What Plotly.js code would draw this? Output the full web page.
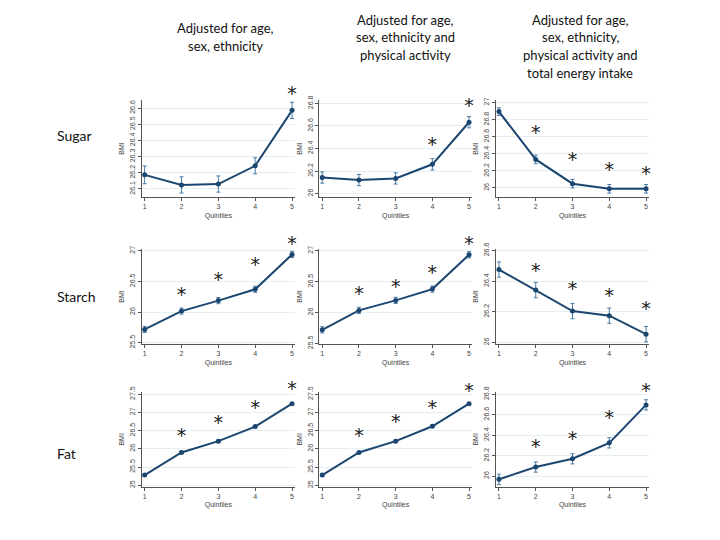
<!DOCTYPE html>
<html>
<head>
<meta charset="utf-8">
<script src="https://cdn.plot.ly/plotly-3.0.1.min.js"></script>
<style>html,body{margin:0;padding:0;background:#fff;overflow:hidden}#chart{width:720px;height:540px}</style>
</head>
<body>
<div id="chart"></div>
<script>
// ---- data ----
const quintiles = [1, 2, 3, 4, 5];
const rowLabels = ["Sugar", "Starch", "Fat"];
const colTitleLines = [
  ["Adjusted for age,", "sex, ethnicity"],
  ["Adjusted for age,", "sex, ethnicity and", "physical activity"],
  ["Adjusted for age,", "sex, ethnicity,", "physical activity and", "total energy intake"]
];

const sugarAdj1 = [26.187, 26.125, 26.13, 26.243, 26.586];
const sugarAdj1Err = [0.055, 0.05, 0.05, 0.05, 0.05];
const sugarAdj1Star = [null, null, null, null, 26.711];
const sugarAdj1Ticks = [26.1, 26.2, 26.3, 26.4, 26.5, 26.6];

const sugarAdj2 = [26.143, 26.12, 26.135, 26.26, 26.633];
const sugarAdj2Err = [0.05, 0.05, 0.05, 0.05, 0.05];
const sugarAdj2Star = [null, null, null, 26.469, 26.812];
const sugarAdj2Ticks = [26, 26.2, 26.4, 26.6, 26.8];

const sugarAdj3 = [26.894, 26.334, 26.05, 25.99, 25.99];
const sugarAdj3Err = [0.045, 0.05, 0.05, 0.05, 0.05];
const sugarAdj3Star = [null, 26.699, 26.373, 26.259, 26.216];
const sugarAdj3Ticks = [26, 26.2, 26.4, 26.6, 26.8, 27];

const starchAdj1 = [25.718, 26.017, 26.188, 26.373, 26.941];
const starchAdj1Err = [0.05, 0.05, 0.05, 0.05, 0.05];
const starchAdj1Star = [null, 26.345, 26.586, 26.831, 27.175];
const starchAdj1Ticks = [25.5, 26, 26.5, 27];

const starchAdj2 = [25.72, 26.035, 26.197, 26.38, 26.936];
const starchAdj2Err = [0.05, 0.05, 0.05, 0.05, 0.05];
const starchAdj2Star = [null, 26.364, 26.482, 26.716, 27.174];
const starchAdj2Ticks = [25.5, 26, 26.5, 27];

const starchAdj3 = [26.476, 26.342, 26.205, 26.175, 26.054];
const starchAdj3Err = [0.05, 0.05, 0.05, 0.05, 0.05];
const starchAdj3Star = [null, 26.492, 26.379, 26.334, 26.243];
const starchAdj3Ticks = [26, 26.2, 26.4, 26.6];

const fatAdj1 = [25.28, 25.9, 26.21, 26.61, 27.24];
const fatAdj1Err = [0.03, 0.03, 0.03, 0.03, 0.03];
const fatAdj1Star = [null, 26.468, 26.836, 27.247, 27.748];
const fatAdj1Ticks = [25, 25.5, 26, 26.5, 27, 27.5];

const fatAdj2 = [25.28, 25.9, 26.21, 26.62, 27.24];
const fatAdj2Err = [0.03, 0.03, 0.03, 0.03, 0.03];
const fatAdj2Star = [null, 26.468, 26.852, 27.247, 27.70];
const fatAdj2Ticks = [25, 25.5, 26, 26.5, 27, 27.5];

const fatAdj3 = [25.968, 26.088, 26.169, 26.325, 26.696];
const fatAdj3Err = [0.05, 0.05, 0.05, 0.05, 0.05];
const fatAdj3Star = [null, 26.329, 26.4, 26.612, 26.871];
const fatAdj3Ticks = [26, 26.2, 26.4, 26.6, 26.8];

// ---- layout helpers ----
const W = 720, H = 540;
const colPx = [[141.7, 295], [319.3, 472], [496, 649]];
const rowPx = [[100, 197], [249, 344], [392, 486.7]];
const yRanges = [
  [[26.05, 26.65], [25.97, 26.83], [25.894, 27.03]],
  [[25.48, 27.03], [25.49, 27.03], [25.99, 26.61]],
  [[24.96, 27.56], [24.96, 27.56], [25.896, 26.822]]
];

const panels = [
  [[sugarAdj1, sugarAdj1Err, sugarAdj1Star, sugarAdj1Ticks],
   [sugarAdj2, sugarAdj2Err, sugarAdj2Star, sugarAdj2Ticks],
   [sugarAdj3, sugarAdj3Err, sugarAdj3Star, sugarAdj3Ticks]],
  [[starchAdj1, starchAdj1Err, starchAdj1Star, starchAdj1Ticks],
   [starchAdj2, starchAdj2Err, starchAdj2Star, starchAdj2Ticks],
   [starchAdj3, starchAdj3Err, starchAdj3Star, starchAdj3Ticks]],
  [[fatAdj1, fatAdj1Err, fatAdj1Star, fatAdj1Ticks],
   [fatAdj2, fatAdj2Err, fatAdj2Star, fatAdj2Ticks],
   [fatAdj3, fatAdj3Err, fatAdj3Star, fatAdj3Ticks]]
];

const lineColor = "#1b4670";
const errColor = "#4a7aa6";
const axisColor = "#555";
const smallFont = {family: "Liberation Sans, Arial, sans-serif", size: 7, color: "#444"};
const starExtraPx = 34;   // room above each panel for significance stars
const starShiftPx = 5.5;  // glyph baseline compensation (downwards)

const traces = [];
const layout = {
  width: W, height: H,
  margin: {l: 0, r: 0, t: 0, b: 0},
  paper_bgcolor: "#fff", plot_bgcolor: "rgba(0,0,0,0)",
  showlegend: false,
  annotations: []
};

let n = 0;
for (let r = 0; r < 3; r++) {
  for (let c = 0; c < 3; c++) {
    n++;
    const sfx = n === 1 ? "" : String(n);
    const starSfx = String(n + 9);
    const [vals, errs, stars, ticks] = panels[r][c];
    const [r0, r1] = yRanges[r][c];
    const [topPx, botPx] = rowPx[r];
    const ppu = (botPx - topPx) / (r1 - r0);

    traces.push({
      type: "scatter", mode: "lines+markers",
      x: quintiles, y: vals,
      xaxis: "x" + sfx, yaxis: "y" + sfx,
      line: {color: lineColor, width: 2},
      marker: {color: lineColor, size: 5},
      error_y: {type: "data", array: errs, visible: true, color: errColor, thickness: 1, width: 2}
    });
    traces.push({
      type: "scatter", mode: "text",
      x: quintiles, y: stars,
      text: stars.map(v => v === null ? "" : "*"),
      textposition: "middle center",
      textfont: {family: "DejaVu Sans, sans-serif", size: 19, color: "#222"},
      cliponaxis: false,
      xaxis: "x" + sfx, yaxis: "y" + starSfx,
      hoverinfo: "skip"
    });

    layout["xaxis" + sfx] = {
      domain: [colPx[c][0] / W, colPx[c][1] / W],
      anchor: "y" + sfx,
      range: [0.92, 5.08],
      tickvals: quintiles, ticktext: quintiles.map(String),
      showgrid: false, zeroline: false,
      showline: true, linecolor: axisColor, linewidth: 1,
      ticks: "outside", ticklen: 3, tickcolor: axisColor,
      tickfont: smallFont,
      title: {text: "Quintiles", font: smallFont, standoff: 3}
    };
    layout["yaxis" + sfx] = {
      domain: [1 - botPx / H, 1 - topPx / H],
      anchor: "x" + sfx,
      range: [r0, r1],
      tickvals: ticks, ticktext: ticks.map(String),
      tickangle: -90,
      showgrid: true, gridcolor: "#e5eff1", gridwidth: 1,
      zeroline: false,
      showline: true, linecolor: axisColor, linewidth: 1,
      ticks: "outside", ticklen: 3, tickcolor: axisColor,
      tickfont: smallFont,
      title: {text: "BMI", font: smallFont, standoff: 3}
    };
    // invisible companion axis with the same scale, taller, for the stars
    const a = r0 + starShiftPx / ppu;
    const b = a + (botPx - (topPx - starExtraPx)) / ppu;
    layout["yaxis" + starSfx] = {
      domain: [1 - botPx / H, 1 - (topPx - starExtraPx) / H],
      anchor: "x" + sfx,
      range: [a, b],
      visible: false, showgrid: false, zeroline: false, fixedrange: true
    };
  }
}

const centers = [225, 405, 580];
const firstLineY = [28, 20, 20];
const lineGap = 17.5;
colTitleLines.forEach((lines, i) => {
  lines.forEach((t, j) => {
    layout.annotations.push({
      xref: "paper", yref: "paper",
      x: centers[i] / W, y: 1 - (firstLineY[i] + j * lineGap) / H,
      xanchor: "center", yanchor: "middle",
      text: t, showarrow: false,
      font: {family: "Lato, Open Sans, sans-serif", size: 13, color: "#111"}
    });
  });
});
const rowY = [136, 296, 453];
rowLabels.forEach((t, i) => {
  layout.annotations.push({
    xref: "paper", yref: "paper",
    x: 55 / W, y: 1 - rowY[i] / H,
    xanchor: "left", yanchor: "middle",
    text: t, showarrow: false,
    font: {family: "Lato, Open Sans, sans-serif", size: 14, color: "#111"}
  });
});

Plotly.newPlot("chart", traces, layout, {displayModeBar: false, staticPlot: true});
</script>
</body>
</html>
